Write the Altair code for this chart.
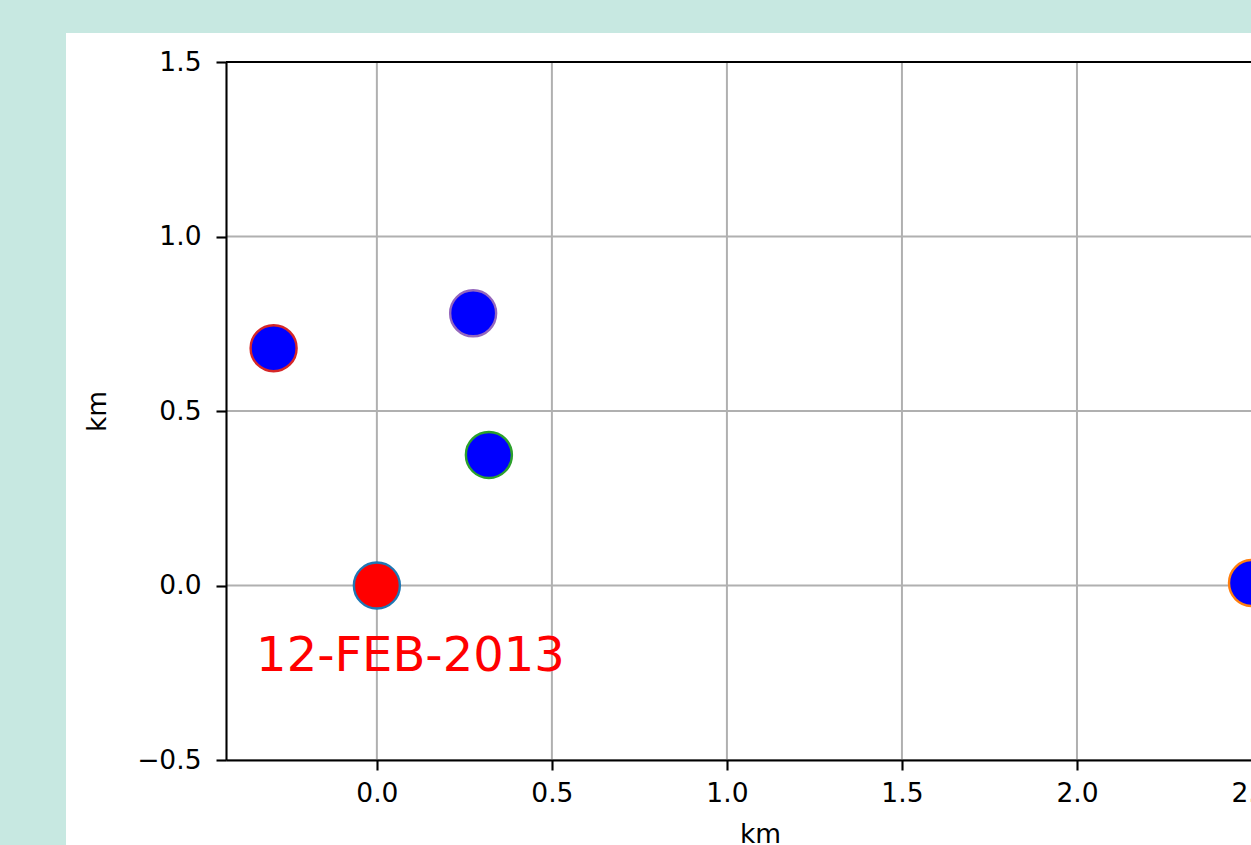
import altair as alt
import pandas as pd

# Station offsets from the reference site (km, east / north)
east_km = [0.0, 2.5, 0.32, -0.295, 0.275]
north_km = [0.0, 0.007, 0.374, 0.68, 0.78]
fill_colors = ["#ff0000", "#0000ff", "#0000ff", "#0000ff", "#0000ff"]
edge_colors = ["#1f77b4", "#ff7f0e", "#2ca02c", "#d62728", "#9467bd"]

# Axis ticks and limits
x_ticks = [0.0, 0.5, 1.0, 1.5, 2.0, 2.5]
y_ticks = [-0.5, 0.0, 0.5, 1.0, 1.5]
x_limits = [-0.431, 2.62]
y_limits = [-0.5, 1.5]

# Date annotation
date_text = ["12-FEB-2013"]
date_x = [-0.345]
date_y = [-0.245]

FONT = "DejaVu Sans"
GRID = "#b0b0b0"

# Figure geometry (pixels): the axes run past the right edge of the figure
AX_LEFT, AX_TOP = 226, 62
AX_W, AX_H = 1068, 698
FIG_W, FIG_H = 1251, 845

stations = pd.DataFrame({"x": east_km, "y": north_km,
                         "fill": fill_colors, "edge": edge_colors})
xgrid = pd.DataFrame({"x": x_ticks})
ygrid = pd.DataFrame({"y": y_ticks})
top_spine = pd.DataFrame({"y": [y_limits[1]]})
note = pd.DataFrame({"x": date_x, "y": date_y, "t": date_text})

xscale = alt.Scale(domain=x_limits, range=[0, AX_W], nice=False, zero=False)
yscale = alt.Scale(domain=y_limits, nice=False, zero=False)

common_axis = dict(
    grid=False, format=".1f", title="km",
    domainColor="black", domainWidth=2.1,
    tickColor="black", tickWidth=2.1, tickSize=10,
    labelFont=FONT, labelFontSize=26.5, labelColor="black",
    labelFlush=False, labelOverlap=False,
    titleFont=FONT, titleFontSize=26.5, titleFontWeight="normal",
    titleColor="black", zindex=1,
)
xaxis = alt.Axis(values=x_ticks, labelPadding=10, titlePadding=15, **common_axis)
yaxis = alt.Axis(values=y_ticks, labelPadding=15, titlePadding=25, **common_axis)


def X(field="x"):
    return alt.X(f"{field}:Q", scale=xscale, axis=xaxis)


def Y(field="y"):
    return alt.Y(f"{field}:Q", scale=yscale, axis=yaxis)


# White figure panel behind the axes
panel = alt.Chart(pd.DataFrame({"k": [0]})).mark_rect(fill="white").encode(
    x=alt.value(-160), x2=alt.value(1400),
    y=alt.value(-29), y2=alt.value(1000),
)

vgrid = alt.Chart(xgrid).mark_rule(color=GRID, strokeWidth=2).encode(x=X())
hgrid = alt.Chart(ygrid).mark_rule(color=GRID, strokeWidth=2).encode(
    y=Y(), x=alt.value(0), x2=alt.value(AX_W))
spine = alt.Chart(top_spine).mark_rule(color="black", strokeWidth=2.1).encode(
    y=Y(), x=alt.value(0), x2=alt.value(AX_W))

points = alt.Chart(stations).mark_circle(size=2116, strokeWidth=2.4, opacity=1).encode(
    x=X(), y=Y(),
    fill=alt.Fill("fill:N", scale=None),
    stroke=alt.Stroke("edge:N", scale=None),
)

label = alt.Chart(note).mark_text(
    align="left", baseline="alphabetic", font=FONT, fontSize=48, color="#ff0000"
).encode(x=X(), y=Y(), text="t:N")

chart = alt.layer(panel, vgrid, hgrid, spine, points, label).properties(
    width=FIG_W - AX_LEFT, height=AX_H,
    background="#c7e8e1",
    padding={"left": AX_LEFT, "top": AX_TOP, "right": 0,
             "bottom": FIG_H - AX_TOP - AX_H},
    autosize=alt.AutoSizeParams(type="none"),
).configure_view(stroke=None)

chart.save("out.html", embed_options={"renderer": "svg", "actions": False})
